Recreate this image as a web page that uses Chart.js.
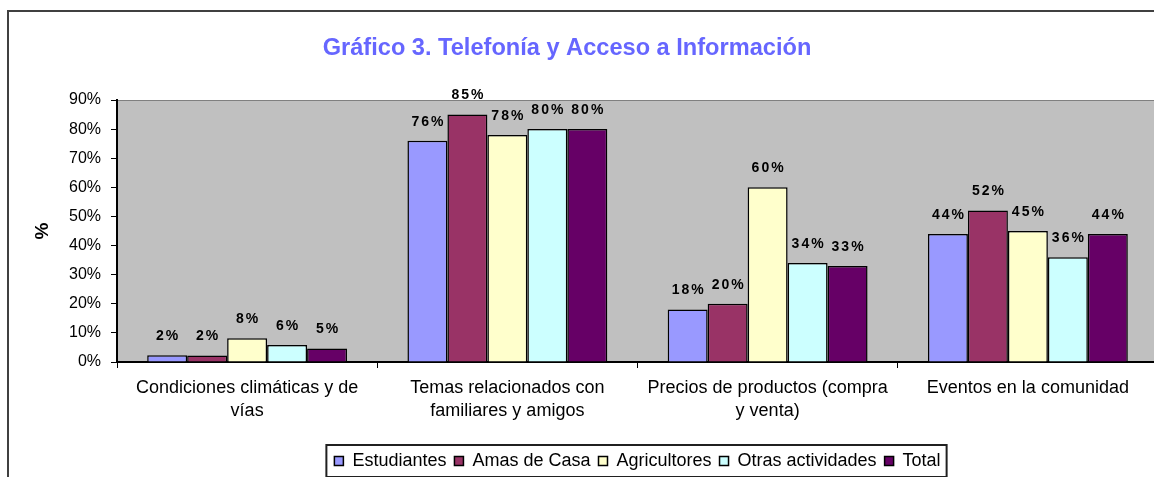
<!DOCTYPE html>
<html lang="es">
<head>
<meta charset="utf-8">
<title>Gráfico 3. Telefonía y Acceso a Información</title>
<script src="https://cdn.jsdelivr.net/npm/chart.js@4.4.1/dist/chart.umd.min.js"></script>
<style>
  html, body { margin: 0; padding: 0; background: #fff; overflow: hidden; }
  #wrap { position: relative; width: 1154px; height: 477px; overflow: hidden; }
  #grafico { position: absolute; left: 0; top: 0; }
</style>
</head>
<body>
<div id="wrap"><canvas id="grafico" width="1158" height="480"></canvas></div>
<script>
const titulo = 'Gráfico 3. Telefonía y Acceso a Información';
const categorias = [
    ['Condiciones climáticas y de', 'vías'],
    ['Temas relacionados con', 'familiares y amigos'],
    ['Precios de productos (compra', 'y venta)'],
    'Eventos en la comunidad'
];
const series = ['Estudiantes', 'Amas de Casa', 'Agricultores', 'Otras actividades', 'Total'];
const estudiantes = [2.3, 76, 18, 44];
const amasDeCasa = [2.2, 85, 20, 52];
const agricultores = [8.2, 78, 60, 45];
const otrasActividades = [5.8, 80, 34, 36];
const total = [4.6, 80, 33, 44];
const colores = ['#9999FF', '#993366', '#FFFFCC', '#CCFFFF', '#660066'];
const ticksY = [0, 10, 20, 30, 40, 50, 60, 70, 80, 90];

const fuente = '"Liberation Sans", Arial, sans-serif';
Chart.defaults.font.family = fuente;

// fondo gris del área de trazado, marco exterior y título
const fondo = {
    id: 'fondo',
    beforeDraw(chart) {
        const { ctx, chartArea: a } = chart;
        ctx.save();
        ctx.fillStyle = '#fff';
        ctx.fillRect(0, 0, chart.width, chart.height);
        ctx.strokeStyle = '#404040';
        ctx.lineWidth = 2;
        ctx.strokeRect(8, 11, chart.width + 20, chart.height + 20);
        ctx.fillStyle = '#C0C0C0';
        ctx.fillRect(a.left, a.top, a.right - a.left, a.bottom - a.top);
        ctx.strokeStyle = '#808080';
        ctx.lineWidth = 1;
        ctx.strokeRect(a.left + 0.5, a.top + 0.5, a.right - a.left, a.bottom - a.top);
        ctx.fillStyle = '#6666FF';
        ctx.font = 'bold 23.6px ' + fuente;
        ctx.textAlign = 'center';
        ctx.textBaseline = 'middle';
        ctx.fillText(titulo, 567, 48);
        ctx.restore();
    }
};

// porcentajes encima de cada barra
const etiquetas = {
    id: 'etiquetas',
    afterDatasetsDraw(chart) {
        const ctx = chart.ctx;
        ctx.save();
        ctx.font = 'bold 14px ' + fuente;
        ctx.letterSpacing = '2px';
        ctx.fillStyle = '#000';
        ctx.textAlign = 'center';
        ctx.textBaseline = 'middle';
        chart.data.datasets.forEach((ds, i) => {
            chart.getDatasetMeta(i).data.forEach((barra, j) => {
                ctx.fillText(Math.round(ds.data[j]) + '%', barra.x + 1, barra.y - 19);
            });
        });
        ctx.restore();
    }
};

// recuadro alrededor de la leyenda
const marcoLeyenda = {
    id: 'marcoLeyenda',
    afterDraw(chart) {
        const cajas = chart.legend.legendHitBoxes;
        if (!cajas || !cajas.length) return;
        const izq = Math.min(...cajas.map(c => c.left)) - 8;
        const der = Math.max(...cajas.map(c => c.left + c.width)) + 6;
        const arriba = cajas[0].top - 7;
        const abajo = cajas[0].top + cajas[0].height + 7;
        const ctx = chart.ctx;
        ctx.save();
        ctx.strokeStyle = '#202020';
        ctx.lineWidth = 2;
        ctx.strokeRect(izq, arriba, der - izq, abajo - arriba);
        ctx.restore();
    }
};

const datos = [estudiantes, amasDeCasa, agricultores, otrasActividades, total];

new Chart(document.getElementById('grafico').getContext('2d'), {
    type: 'bar',
    data: {
        labels: categorias,
        datasets: series.map((nombre, i) => ({
            label: nombre,
            data: datos[i],
            backgroundColor: colores[i],
            borderColor: '#000',
            borderWidth: 1.5,
            categoryPercentage: 0.768,
            barPercentage: 1.0
        }))
    },
    options: {
        responsive: false,
        animation: false,
        events: [],
        layout: { padding: { top: 100, left: 0, right: 0, bottom: 0 } },
        plugins: {
            tooltip: { enabled: false },
            legend: {
                position: 'bottom',
                fullSize: false,
                labels: {
                    boxWidth: 9,
                    boxHeight: 9,
                    padding: 8,
                    color: '#000',
                    font: { size: 18 }
                }
            }
        },
        scales: {
            x: {
                grid: { display: true, drawOnChartArea: false, drawTicks: true, tickLength: 6, color: '#000', offset: true },
                border: { display: true, color: '#000', width: 2 },
                ticks: { color: '#000', font: { size: 18, lineHeight: 1.25 }, padding: 9, maxRotation: 0, autoSkip: false },
                afterFit(s) { s.height = 82; }
            },
            y: {
                min: 0,
                max: 90,
                afterBuildTicks(s) { s.ticks = ticksY.map(v => ({ value: v })); },
                grid: { drawOnChartArea: false, tickLength: 6, color: '#000' },
                border: { display: true, color: '#000', width: 2 },
                ticks: { color: '#000', font: { size: 16 }, padding: 10, callback: v => v + '%' },
                title: { display: true, text: '%', color: '#000', font: { size: 19, weight: 'bold' }, padding: { top: 31 } },
                afterFit(s) { s.width = 117; }
            }
        }
    },
    plugins: [fondo, etiquetas, marcoLeyenda]
});
</script>
</body>
</html>
